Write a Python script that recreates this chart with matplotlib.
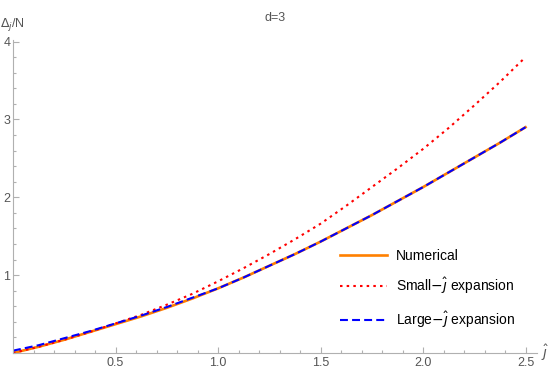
import matplotlib
matplotlib.use("Agg")
import matplotlib.pyplot as plt
from matplotlib.ticker import MultipleLocator, FixedLocator

# values
j_hat = [0.0, 0.125, 0.25, 0.375, 0.5, 0.625, 0.75, 0.875, 1.0, 1.125, 1.25,
         1.375, 1.5, 1.625, 1.75, 1.875, 2.0, 2.125, 2.25, 2.375, 2.5]
numerical = [0.00, 0.08, 0.17, 0.27, 0.37, 0.47, 0.58, 0.70, 0.83, 0.97, 1.12,
             1.27, 1.43, 1.60, 1.77, 1.95, 2.13, 2.32, 2.51, 2.70, 2.90]
small_j = [0.00, 0.08, 0.17, 0.27, 0.38, 0.49, 0.62, 0.76, 0.92, 1.09, 1.27,
           1.46, 1.66, 1.89, 2.13, 2.37, 2.62, 2.89, 3.18, 3.48, 3.80]
large_j = [0.03, 0.10, 0.19, 0.28, 0.38, 0.48, 0.59, 0.71, 0.83, 0.97, 1.12,
           1.27, 1.43, 1.60, 1.77, 1.95, 2.13, 2.32, 2.51, 2.70, 2.90]
x_ticks = [0.5, 1.0, 1.5, 2.0, 2.5]
y_ticks = [1, 2, 3, 4]

plt.rcParams['font.family'] = ['Liberation Sans', 'DejaVu Sans']
gray_txt = '#555555'
gray_ax = '#b0b0b0'

fig = plt.figure(figsize=(5.54, 3.73), dpi=100)
ax = fig.add_axes([13/554, 20/373, 524/554, 313/373])

ax.plot(j_hat, numerical, color='#ff8000', lw=1.9, label='Numerical')
ax.plot(j_hat, small_j, color='#ff0000', lw=1.5, ls=(0, (1.2, 2)),
        label=r'Small$-\hat{\jmath}$ expansion')
ax.plot(j_hat, large_j, color='#0000ff', lw=1.5, ls=(0, (3.8, 2)),
        label=r'Large$-\hat{\jmath}$ expansion')

ax.set_xlim(0, 2.556)
ax.set_ylim(0, 4.02)
for s in ['top', 'right']:
    ax.spines[s].set_visible(False)
for s in ['left', 'bottom']:
    ax.spines[s].set_color(gray_ax)
    ax.spines[s].set_linewidth(0.8)

ax.xaxis.set_major_locator(FixedLocator(x_ticks))
ax.yaxis.set_major_locator(FixedLocator(y_ticks))
ax.xaxis.set_minor_locator(MultipleLocator(0.1))
ax.yaxis.set_minor_locator(MultipleLocator(0.2))
ax.tick_params(which='both', direction='in', color=gray_ax, width=0.8,
               labelcolor=gray_txt, labelsize=9)
ax.tick_params(which='major', length=4.5, pad=3)
ax.tick_params(which='minor', length=2.5)
ax.set_xticklabels(['0.5', '1.0', '1.5', '2.0', '2.5'])
ax.set_yticklabels(['1', '2', '3', '4'])
ax.tick_params(axis='y', pad=2)

ax.set_title('d=3', color=gray_txt, fontsize=9, pad=14)
fig.text(0.0, 1 - 25/373, r'$\Delta_j$/N', color=gray_txt, fontsize=9,
         ha='left', va='center')
fig.text(541/554, 1 - 353/373, r'$\hat{\jmath}$', color=gray_txt, fontsize=10,
         ha='left', va='center')

ax.legend(loc='center left', bbox_to_anchor=(0.624, 0.204), frameon=False,
          fontsize=10, handlelength=3.4, handletextpad=0.6, labelspacing=0.95,
          borderpad=0, borderaxespad=0)

fig.savefig('out.png', dpi=100)
